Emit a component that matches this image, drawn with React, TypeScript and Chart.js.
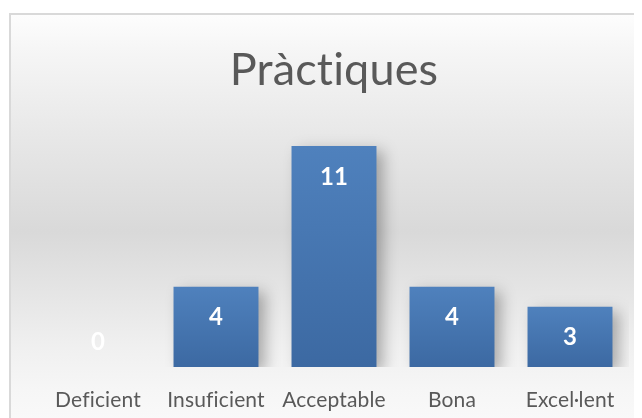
import React, { useEffect, useRef } from "react";
import { Chart, registerables } from "chart.js";

Chart.register(...registerables);

const TITLE = "Pràctiques";
const categories = ["Deficient", "Insuficient", "Acceptable", "Bona", "Excel·lent"];
const values = [0, 4, 11, 4, 3];
const yMax = 12;

const CW = 650;
const CH = 416;

const spacingPlugin = {
  id: "noLigatures",
  beforeDraw(chart: any) {
    try {
      (chart.ctx as any).letterSpacing = "0.15px";
    } catch (e) {}
  },
  afterDraw(chart: any) {
    try {
      (chart.ctx as any).letterSpacing = "0px";
    } catch (e) {}
  },
};

const shadowPlugin = {
  id: "barShadow",
  beforeDatasetsDraw(chart: any) {
    const ctx = chart.ctx;
    ctx.save();
    ctx.shadowColor = "rgba(0,0,0,0.30)";
    ctx.shadowBlur = 14;
    ctx.shadowOffsetX = 7;
    ctx.shadowOffsetY = 5;
  },
  afterDatasetsDraw(chart: any) {
    chart.ctx.restore();
  },
};

const labelPlugin = {
  id: "valueLabels",
  afterDatasetsDraw(chart: any) {
    const ctx = chart.ctx;
    const meta = chart.getDatasetMeta(0);
    const base = chart.scales.y.getPixelForValue(0);
    ctx.save();
    ctx.fillStyle = "#ffffff";
    ctx.font = "bold 24px Lato, 'Open Sans', sans-serif";
    ctx.textAlign = "center";
    ctx.textBaseline = "middle";
    meta.data.forEach((bar: any, i: number) => {
      const cy = Math.min(bar.y + 31, base - 25);
      ctx.fillText(String(values[i]), bar.x, cy);
    });
    ctx.restore();
  },
};

export default function App() {
  const ref = useRef<HTMLCanvasElement | null>(null);

  useEffect(() => {
    if (!ref.current) return;
    const chart = new Chart(ref.current, {
      type: "bar",
      data: {
        labels: categories,
        datasets: [
          {
            data: values,
            backgroundColor: (c: any) => {
              const ch = c.chart;
              const ys = ch.scales && ch.scales.y;
              if (!ch.chartArea || !ys || c.raw === undefined) return "#4a7ab5";
              const top = ys.getPixelForValue(c.raw);
              const bot = ys.getPixelForValue(0);
              if (bot - top < 1) return "#4a7ab5";
              const g = ch.ctx.createLinearGradient(0, top, 0, bot);
              g.addColorStop(0, "#4f81bd");
              g.addColorStop(1, "#3c69a2");
              return g;
            },
            borderWidth: 0,
            barPercentage: 0.9,
            categoryPercentage: 0.8,
          },
        ],
      },
      options: {
        animation: false,
        responsive: false,
        layout: { padding: { left: 28, right: 32, top: 0, bottom: 0 } },
        plugins: {
          legend: { display: false },
          tooltip: { enabled: false },
          title: {
            display: true,
            text: TITLE,
            color: "#595959",
            font: { family: "Lato, 'Open Sans', sans-serif", size: 45, weight: "normal" },
            padding: { top: 28, bottom: 29 },
          },
        },
        scales: {
          y: {
            display: false,
            min: 0,
            max: yMax,
          },
          x: {
            grid: { display: false, drawTicks: false },
            border: { display: false },
            afterFit: (scale: any) => {
              scale.height = 64;
            },
            ticks: {
              color: "#595959",
              font: { family: "Lato, 'Open Sans', sans-serif", size: 21 },
              padding: 21,
              maxRotation: 0,
              autoSkip: false,
            },
          },
        },
      },
      plugins: [spacingPlugin, shadowPlugin, labelPlugin],
    });
    return () => chart.destroy();
  }, []);

  return (
    <div style={{ width: 634, height: 410, overflow: "hidden", position: "relative" }}>
      <div
        style={{
          position: "absolute",
          left: 1,
          top: 5,
          width: CW,
          height: CH,
          border: "2px solid #d9d9d9",
          background:
            "linear-gradient(to bottom, #fdfdfd 0%, #f6f6f6 8%, #e7e7e7 30%, #d9d9d9 52%, #e6e6e6 68%, #f0f0f0 80%, #f6f6f6 90%, #fafafa 100%)",
        }}
      >
        <canvas ref={ref} width={CW} height={CH} style={{ display: "block" }} />
      </div>
    </div>
  );
}
